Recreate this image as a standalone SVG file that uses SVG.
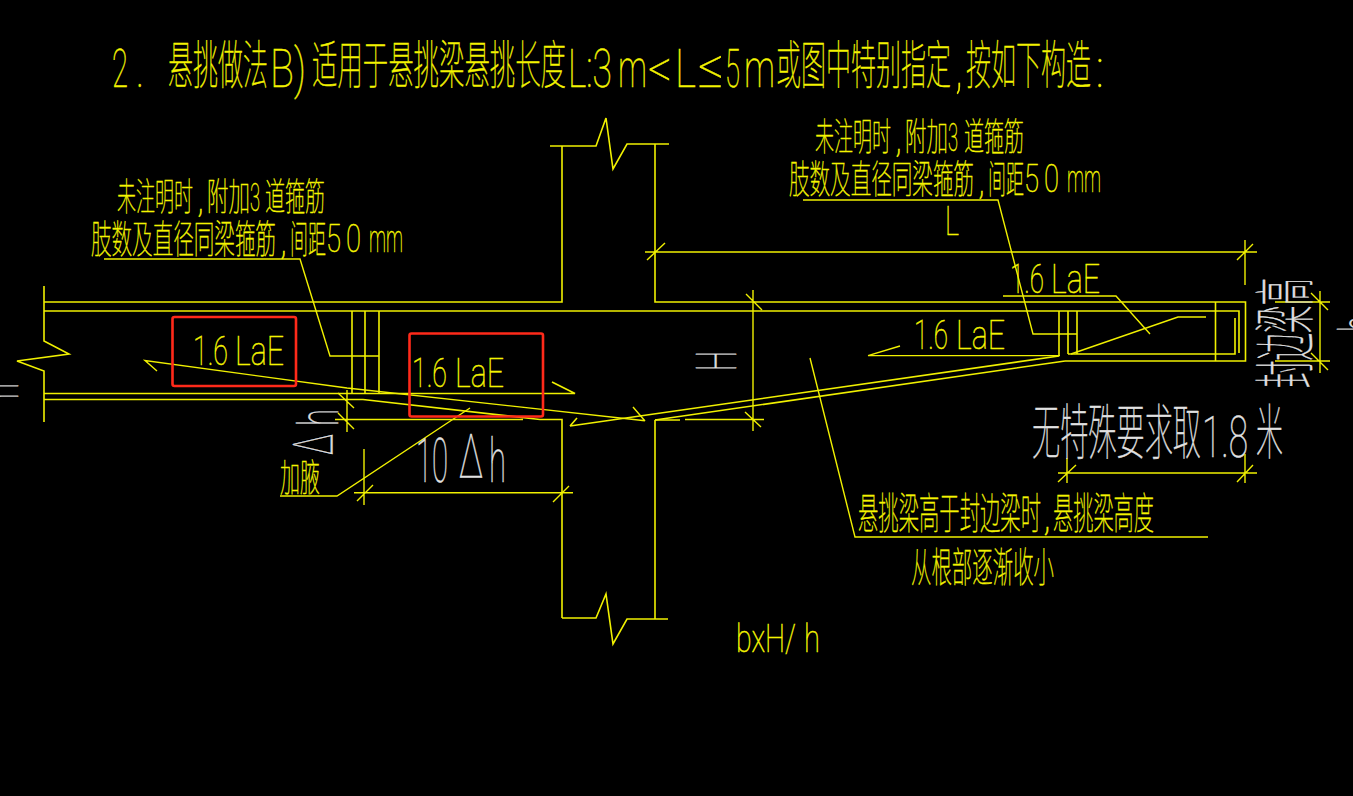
<svg xmlns="http://www.w3.org/2000/svg" width="1353" height="796" viewBox="0 0 1353 796">
<style>
.l{fill:none;stroke:#f0f000;stroke-width:1.6}
.w{fill:none;stroke:#f0f000;stroke-width:1.4}
.r{fill:none;stroke:#ff2a1a;stroke-width:2.6}
text{font-family:"Roboto","Noto Sans CJK SC",sans-serif;font-weight:100}
.y{fill:#f4f400;stroke:#f4f400;stroke-width:.5}
.g{fill:#e2e2e2;stroke:#e2e2e2;stroke-width:.5}
.c{font-family:"Noto Sans CJK SC","Roboto",sans-serif}
</style>
<rect width="1353" height="796" fill="#000"/>
<g id="beam-and-column" class="l">
<path d="M44 286V341L69 354L17 361L44 371V422"/>
<path d="M44 302H562V146H550M550 146H596L606 118L613 169L627 144H669M655 144V302H1245.5V361H1065"/>
<path d="M44 311H1239V353M1235 318V354H1068"/>
<path d="M44 393.5H575L552 382M44 399.5H363L540 419.5H562V618M335 419.5H523"/>
<path d="M570 426L1059 356M655 420L1065 361M570 426L577 418"/>
<path d="M655 420V619M655 420H680"/>
<path d="M562 618H596L606 594L613 644L627 619H668"/>
<path d="M1215.5 302V361"/>
<path d="M352 311V393M365 311V393M379 311V393"/>
<path d="M1059 311V356M1068 311V354M1077 311V354"/>
</g>
<g id="connectors" class="w">
<path d="M157 371L145 360.500L347 388L645 420.700M633 407L645 421"/>
<path d="M104 259H300L330 356H379"/>
<path d="M803 200H998L1033 334H1077"/>
<path d="M1003 296H1116L1150 334"/>
<path d="M868 355.600H1060M868 355.600L900 346"/>
<path d="M1071 354L1178 317H1206"/>
<path d="M810 358L855 537H1208"/>
<path d="M280 496H337L470 408"/>
<path d="M645 252H1257M647 260L665 243M1245 240V285M1237 260L1253 244"/>
<path d="M753 290V431M746 294L762 310M685 419.500H764M745 412L761 427"/>
<path d="M347 390V432M338 393L354 408M338 413L354 429"/>
<path d="M354 492.700H573M364 449V505M357 501L373 485M553 502L569 486"/>
<path d="M1058 473H1257M1067 458V483M1245 454V483M1058 482L1076 465M1237 482L1253 465"/>
<path d="M1275 302H1330M1275 361H1330M1320 291V373M1311 293L1328 310M1311 353L1328 370"/>
</g>
<g id="highlights" class="r">
<rect x="172.500" y="317" width="123.500" height="69" rx="2"/>
<rect x="409.500" y="333.500" width="133.500" height="83" rx="2"/>
</g>
<g id="title">
<text class="y" x="112" y="87" font-size="54" textLength="16" lengthAdjust="spacingAndGlyphs">2</text>
<text class="y" x="136" y="87" font-size="54" textLength="8" lengthAdjust="spacingAndGlyphs">.</text>
<text class="y c" x="168" y="84" font-size="52" textLength="100" lengthAdjust="spacingAndGlyphs">悬挑做法</text>
<text class="y" x="270" y="87" font-size="54" textLength="36" lengthAdjust="spacingAndGlyphs">B)</text>
<text class="y c" x="312" y="84" font-size="52" textLength="254" lengthAdjust="spacingAndGlyphs">适用于悬挑梁悬挑长度</text>
<text class="y" x="568" y="87" font-size="54" textLength="44" lengthAdjust="spacingAndGlyphs">L:3</text>
<text class="y" x="618" y="87" font-size="54" textLength="29" lengthAdjust="spacingAndGlyphs">m</text>
<text class="y" x="648" y="87" font-size="54" textLength="24" lengthAdjust="spacingAndGlyphs">&lt;</text>
<text class="y" x="675" y="87" font-size="54" textLength="21" lengthAdjust="spacingAndGlyphs">L</text>
<text class="y" x="698" y="87" font-size="54" textLength="26" lengthAdjust="spacingAndGlyphs">≤</text>
<text class="y" x="725" y="87" font-size="54" textLength="15" lengthAdjust="spacingAndGlyphs">5</text>
<text class="y" x="744" y="87" font-size="54" textLength="31" lengthAdjust="spacingAndGlyphs">m</text>
<text class="y c" x="776" y="84" font-size="52" textLength="175" lengthAdjust="spacingAndGlyphs">或图中特别指定</text>
<text class="y" x="955" y="87" font-size="54" textLength="8" lengthAdjust="spacingAndGlyphs">,</text>
<text class="y c" x="966" y="84" font-size="52" textLength="125" lengthAdjust="spacingAndGlyphs">按如下构造</text>
<text class="y" x="1096" y="87" font-size="54" textLength="8" lengthAdjust="spacingAndGlyphs">:</text>
</g>
<g id="note-left">
<text class="y c" x="117" y="210" font-size="38" textLength="76" lengthAdjust="spacingAndGlyphs">未注明时</text>
<text class="y" x="197" y="212" font-size="38" textLength="7" lengthAdjust="spacingAndGlyphs">,</text>
<text class="y c" x="207" y="210" font-size="38" textLength="43" lengthAdjust="spacingAndGlyphs">附加</text>
<text class="y" x="250" y="211" font-size="38" textLength="10" lengthAdjust="spacingAndGlyphs">3</text>
<text class="y c" x="265" y="210" font-size="38" textLength="60" lengthAdjust="spacingAndGlyphs">道箍筋</text>
<text class="y c" x="91" y="253" font-size="39" textLength="185" lengthAdjust="spacingAndGlyphs">肢数及直径同梁箍筋</text>
<text class="y" x="280" y="254" font-size="38" textLength="7" lengthAdjust="spacingAndGlyphs">,</text>
<text class="y c" x="290" y="253" font-size="39" textLength="36" lengthAdjust="spacingAndGlyphs">间距</text>
<text class="y" x="326" y="252" font-size="38" textLength="15" lengthAdjust="spacingAndGlyphs">5</text>
<text class="y" x="346" y="252" font-size="38" textLength="15" lengthAdjust="spacingAndGlyphs">0</text>
<text class="y" x="369" y="252" font-size="38" textLength="34" lengthAdjust="spacingAndGlyphs">mm</text>
</g>
<g id="note-right">
<text class="y c" x="815" y="150" font-size="38" textLength="76" lengthAdjust="spacingAndGlyphs">未注明时</text>
<text class="y" x="895" y="152" font-size="38" textLength="7" lengthAdjust="spacingAndGlyphs">,</text>
<text class="y c" x="905" y="150" font-size="38" textLength="43" lengthAdjust="spacingAndGlyphs">附加</text>
<text class="y" x="948" y="151" font-size="38" textLength="10" lengthAdjust="spacingAndGlyphs">3</text>
<text class="y c" x="964" y="150" font-size="38" textLength="60" lengthAdjust="spacingAndGlyphs">道箍筋</text>
<text class="y c" x="789" y="193" font-size="39" textLength="185" lengthAdjust="spacingAndGlyphs">肢数及直径同梁箍筋</text>
<text class="y" x="978" y="194" font-size="38" textLength="7" lengthAdjust="spacingAndGlyphs">,</text>
<text class="y c" x="988" y="193" font-size="39" textLength="36" lengthAdjust="spacingAndGlyphs">间距</text>
<text class="y" x="1024" y="192" font-size="38" textLength="15" lengthAdjust="spacingAndGlyphs">5</text>
<text class="y" x="1044" y="192" font-size="38" textLength="15" lengthAdjust="spacingAndGlyphs">0</text>
<text class="y" x="1067" y="192" font-size="38" textLength="34" lengthAdjust="spacingAndGlyphs">mm</text>
</g>
<g id="labels">
<text class="y" x="945" y="235" font-size="41" textLength="14" lengthAdjust="spacingAndGlyphs">L</text>
<text class="y" x="193" y="365" font-size="41" textLength="35" lengthAdjust="spacingAndGlyphs">1.6</text>
<text class="y" x="235" y="365" font-size="41" textLength="49" lengthAdjust="spacingAndGlyphs">LaE</text>
<text class="y" x="412" y="387" font-size="41" textLength="35" lengthAdjust="spacingAndGlyphs">1.6</text>
<text class="y" x="455" y="387" font-size="41" textLength="49" lengthAdjust="spacingAndGlyphs">LaE</text>
<text class="y" x="1010" y="293" font-size="41" textLength="34" lengthAdjust="spacingAndGlyphs">1.6</text>
<text class="y" x="1051" y="293" font-size="41" textLength="49" lengthAdjust="spacingAndGlyphs">LaE</text>
<text class="y" x="914" y="349" font-size="41" textLength="34" lengthAdjust="spacingAndGlyphs">1.6</text>
<text class="y" x="956" y="349" font-size="41" textLength="49" lengthAdjust="spacingAndGlyphs">LaE</text>
<text class="y c" x="280" y="491" font-size="38" textLength="40" lengthAdjust="spacingAndGlyphs">加腋</text>
<text class="y c" x="858" y="529" font-size="43" textLength="183" lengthAdjust="spacingAndGlyphs">悬挑梁高于封边梁时</text>
<text class="y" x="1043" y="530" font-size="40" textLength="8" lengthAdjust="spacingAndGlyphs">,</text>
<text class="y c" x="1053" y="529" font-size="43" textLength="101" lengthAdjust="spacingAndGlyphs">悬挑梁高度</text>
<text class="y c" x="911" y="582" font-size="41" textLength="143" lengthAdjust="spacingAndGlyphs">从根部逐渐收小</text>
<text class="y" x="736" y="652" font-size="38" textLength="60" lengthAdjust="spacingAndGlyphs">bxH/</text>
<text class="y" x="804" y="652" font-size="38" textLength="16" lengthAdjust="spacingAndGlyphs">h</text>
<text class="g" x="416" y="482" font-size="62" textLength="32" lengthAdjust="spacingAndGlyphs">10</text>
<text class="g" x="459" y="478" font-size="62" textLength="24" lengthAdjust="spacingAndGlyphs">Δ</text>
<text class="g" x="489" y="482" font-size="62" textLength="17" lengthAdjust="spacingAndGlyphs">h</text>
<text class="g c" x="1032" y="454" font-size="60" textLength="169" lengthAdjust="spacingAndGlyphs">无特殊要求取</text>
<text class="g" x="1202" y="457" font-size="58" textLength="46" lengthAdjust="spacingAndGlyphs">1.8</text>
<text class="g c" x="1256" y="454" font-size="60" textLength="27" lengthAdjust="spacingAndGlyphs">米</text>
<text class="g" transform="translate(736 371) rotate(-90)" font-size="55" textLength="20" lengthAdjust="spacingAndGlyphs">H</text>
<text class="g" transform="translate(333 455) rotate(-90)" font-size="56" textLength="21" lengthAdjust="spacingAndGlyphs">Δ</text>
<text class="g" transform="translate(338 426) rotate(-90)" font-size="56" textLength="17" lengthAdjust="spacingAndGlyphs">h</text>
<text class="g c" transform="translate(1308 388) rotate(-90)" font-size="62" textLength="110" lengthAdjust="spacingAndGlyphs">封边梁高</text>
<text class="g" transform="translate(18 399) rotate(-90)" font-size="56" textLength="16" lengthAdjust="spacingAndGlyphs">h</text>
<text class="g" transform="translate(1379 332) rotate(-90)" font-size="56" textLength="16" lengthAdjust="spacingAndGlyphs">h</text>
</g>
</svg>
